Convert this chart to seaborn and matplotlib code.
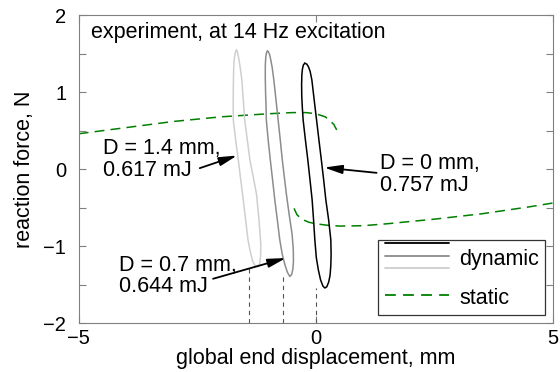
import numpy as np
import matplotlib
matplotlib.use("Agg")
import matplotlib.pyplot as plt
import seaborn as sns
from matplotlib.lines import Line2D
from matplotlib.legend_handler import HandlerBase

# Offsets of the three dynamic runs (mm) and the dissipated energy per cycle (mJ)
offsets_mm = [0.0, 0.7, 1.4]
energies_mJ = [0.757, 0.644, 0.617]
loop_colors = ["#000000", "#8c8c8c", "#cfcfcf"]

# Force-displacement loops at 14 Hz excitation
loop_d00_x = [-0.232, -0.262, -0.283, -0.295, -0.300, -0.297, -0.285, -0.268, -0.220, -0.169, -0.123,
              -0.078, -0.048, -0.021, 0.010, 0.053, 0.100, 0.150, 0.190, 0.230, 0.270, 0.300, 0.316,
              0.322, 0.316, 0.270, 0.211, 0.165, 0.116, 0.065, 0.015, -0.035, -0.084, -0.120, -0.155,
              -0.190, -0.232]
loop_d00_y = [1.377, 1.355, 1.300, 1.225, 1.100, 0.950, 0.800, 0.640, 0.380, 0.120, -0.140,
              -0.400, -0.660, -0.920, -1.150, -1.310, -1.440, -1.520, -1.545, -1.530, -1.470, -1.380,
              -1.250, -1.100, -0.920, -0.660, -0.400, -0.140, 0.120, 0.380, 0.640, 0.900, 1.160,
              1.270, 1.330, 1.365, 1.377]

loop_d07_x = [-1.019, -1.040, -1.055, -1.065, -1.066, -1.060, -1.050, -1.044, -1.005, -0.960, -0.912,
              -0.865, -0.812, -0.760, -0.710, -0.654, -0.600, -0.549, -0.510, -0.485, -0.472, -0.475,
              -0.500, -0.560, -0.620, -0.665, -0.707, -0.750, -0.795, -0.840, -0.886, -0.920, -0.950,
              -0.975, -1.000, -1.019]
loop_d07_y = [1.536, 1.515, 1.460, 1.355, 1.200, 1.000, 0.820, 0.640, 0.380, 0.120, -0.140,
              -0.400, -0.660, -0.920, -1.100, -1.240, -1.340, -1.395, -1.370, -1.300, -1.200, -1.050,
              -0.850, -0.600, -0.330, -0.100, 0.120, 0.380, 0.640, 0.900, 1.160, 1.320, 1.420,
              1.490, 1.525, 1.536]

loop_d14_x = [-1.673, -1.695, -1.710, -1.725, -1.735, -1.740, -1.742, -1.740, -1.690, -1.635, -1.583,
              -1.530, -1.480, -1.430, -1.380, -1.330, -1.280, -1.220, -1.185, -1.165, -1.160, -1.200,
              -1.250, -1.320, -1.390, -1.445, -1.500, -1.530, -1.560, -1.590, -1.620, -1.645, -1.660,
              -1.673]
loop_d14_y = [1.549, 1.520, 1.470, 1.400, 1.250, 1.050, 0.850, 0.640, 0.380, 0.120, -0.140,
              -0.400, -0.660, -0.920, -1.080, -1.200, -1.255, -1.270, -1.230, -1.130, -0.980, -0.650,
              -0.330, -0.100, 0.120, 0.380, 0.640, 0.900, 1.160, 1.300, 1.420, 1.500, 1.535,
              1.549]

loops_x = [loop_d00_x, loop_d07_x, loop_d14_x]
loops_y = [loop_d00_y, loop_d07_y, loop_d14_y]

# Quasi-static force-displacement response (two branches around the snap)
static_upper_x = [-5.0, -4.5, -4.0, -3.5, -3.0, -2.5, -2.0, -1.5, -1.0, -0.5, -0.2, 0.0, 0.1, 0.2, 0.3,
                  0.38, 0.44]
static_upper_y = [0.46, 0.50, 0.54, 0.58, 0.62, 0.65, 0.68, 0.70, 0.72, 0.735, 0.735, 0.72, 0.70, 0.68,
                  0.63, 0.58, 0.51]
static_lower_x = [-0.46, -0.40, -0.30, -0.15, 0.0, 0.25, 0.5, 1.0, 1.5, 2.0, 2.5, 3.0, 3.5, 4.0, 4.5, 5.0]
static_lower_y = [-0.51, -0.59, -0.65, -0.69, -0.71, -0.73, -0.74, -0.735, -0.71, -0.68, -0.65, -0.615,
                  -0.58, -0.535, -0.49, -0.44]

xticks = [-5, 0, 5]
yticks = [-2, -1, 0, 1, 2]
yticks_minor = [-1.5, -0.5, 0.5, 1.5]

# Annotation layout: text anchor (left, centre), arrow tail, arrow head
label_pos = [(1.35, -0.07), (-4.14, -1.39), (-4.49, 0.13)]
arrow_tail = [(1.28, -0.048), (-2.167, -1.425), (-2.447, 0.013)]
arrow_head = [(0.175, 0.021), (-0.633, -1.156), (-1.66, 0.177)]

sns.set_theme(style="white")
plt.rcParams["font.family"] = ["Liberation Sans", "DejaVu Sans"]
plt.rcParams["text.color"] = "black"
plt.rcParams["axes.labelcolor"] = "black"

fig = plt.figure(figsize=(5.6, 3.72), dpi=100)
ax = fig.add_axes([0.1405, 0.1317, 0.8470, 0.8272])

green = "#008000"
sns.lineplot(x=static_upper_x, y=static_upper_y, sort=False, estimator=None, ax=ax,
             color=green, lw=1.1)
sns.lineplot(x=static_lower_x, y=static_lower_y, sort=False, estimator=None, ax=ax,
             color=green, lw=1.1)
for ln in ax.lines:
    ln.set_dashes((6.5, 4))

loop_lines = []
for lx, ly, c in zip(loops_x, loops_y, loop_colors):
    sns.lineplot(x=lx, y=ly, sort=False, estimator=None, ax=ax, color=c, lw=1.1)
    ax.lines[-1].set_solid_joinstyle("round")
    loop_lines.append(ax.lines[-1])

# offset markers below each loop
for d, ly in zip(offsets_mm, loops_y):
    ax.plot([-d, -d], [-2, min(ly)], color="#555555", lw=0.8, dashes=(4, 3.5))

for d, e, (tx, ty), tail, head in zip(offsets_mm, energies_mJ, label_pos, arrow_tail, arrow_head):
    ax.text(tx, ty, f"D = {d:g} mm,\n{e:.3f} mJ", fontsize=15.5, ha="left", va="center",
            linespacing=1.05)
    ax.annotate("", xy=head, xytext=tail,
                arrowprops=dict(arrowstyle="-|>,head_length=0.9,head_width=0.22", color="black",
                                lw=1.3, mutation_scale=12, shrinkA=0, shrinkB=0))

ax.text(-4.73, 1.77, "experiment, at 14 Hz excitation", fontsize=15.5, ha="left", va="center")

ax.set_xlim(-5, 5)
ax.set_ylim(-2, 2)
ax.set_xticks(xticks)
ax.set_xticklabels([f"{v:d}".replace("-", "\u2212") for v in xticks])
ax.set_yticks(yticks)
ax.set_yticklabels([f"{v:d}".replace("-", "\u2212") for v in yticks])
ax.set_yticks(yticks_minor, minor=True)
ax.tick_params(which="both", direction="in", length=5, width=0.8, color="#808080",
               top=True, right=True, bottom=True, left=True, labelsize=14.5, labelcolor="black")
ax.tick_params(axis="x", pad=4)
ax.tick_params(axis="y", pad=9)
for sp in ax.spines.values():
    sp.set_color("#808080")
    sp.set_linewidth(0.8)
ax.set_xlabel("global end displacement, mm", fontsize=15.5, labelpad=0)
ax.set_ylabel("reaction force, N", fontsize=15.5, labelpad=6)


class StackedLines(HandlerBase):
    def create_artists(self, legend, orig_handle, xdescent, ydescent, width, height,
                       fontsize, trans):
        mid = (height - ydescent) / 2.0
        step = 0.56 * fontsize
        arts = []
        for k, src in enumerate(orig_handle):
            y = mid + (1 - k) * step
            a = Line2D([-xdescent, -xdescent + width], [y, y], color=src.get_color(),
                       lw=src.get_linewidth() * 1.2)
            a.set_transform(trans)
            arts.append(a)
        return arts


static_handle = Line2D([], [], color=green, lw=1.3, dashes=(6, 4))
leg = ax.legend([tuple(loop_lines), static_handle], ["dynamic", "static"],
                handler_map={tuple: StackedLines()}, loc="lower right", fontsize=15.5,
                handlelength=3.0, handleheight=1.3, labelspacing=0.7, handletextpad=0.45,
                borderpad=0.3, borderaxespad=0.35, fancybox=False, framealpha=1)
leg.get_frame().set_edgecolor("#333333")
leg.get_frame().set_linewidth(0.9)

fig.savefig("out.png", dpi=100)
